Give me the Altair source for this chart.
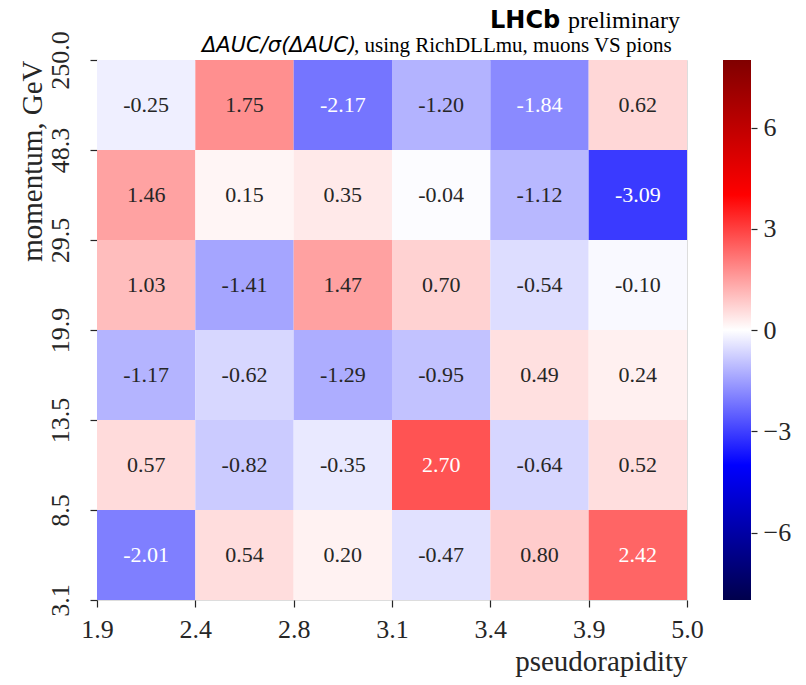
import altair as alt
import pandas as pd

# ---- data ----
eta_edges = ["1.9", "2.4", "2.8", "3.1", "3.4", "3.9", "5.0"]
p_edges = ["3.1", "8.5", "13.5", "19.9", "29.5", "48.3", "250.0"]
# rows from top (highest momentum bin) to bottom
row_250 = [-0.25, 1.75, -2.17, -1.20, -1.84, 0.62]
row_48 = [1.46, 0.15, 0.35, -0.04, -1.12, -3.09]
row_29 = [1.03, -1.41, 1.47, 0.70, -0.54, -0.10]
row_19 = [-1.17, -0.62, -1.29, -0.95, 0.49, 0.24]
row_13 = [0.57, -0.82, -0.35, 2.70, -0.64, 0.52]
row_8 = [-2.01, 0.54, 0.20, -0.47, 0.80, 2.42]
rows_top_down = [row_250, row_48, row_29, row_19, row_13, row_8]
cbar_ticks = [-6, -3, 0, 3, 6]
vmin, vmax = -8, 8

seismic_stops = [0.0, 0.25, 0.5, 0.75, 1.0]
seismic_rgb = [(0.0, 0.0, 0.3), (0.0, 0.0, 1.0), (1.0, 1.0, 1.0), (1.0, 0.0, 0.0), (0.5, 0.0, 0.0)]
seismic_hex = ["#%02x%02x%02x" % tuple(round(c * 255) for c in rgb) for rgb in seismic_rgb]


def cmap(v):
    t = (v - vmin) / (vmax - vmin)
    t = min(max(t, 0.0), 1.0)
    for i in range(4):
        a, b = seismic_stops[i], seismic_stops[i + 1]
        if t <= b:
            f = (t - a) / (b - a)
            return tuple(seismic_rgb[i][k] + f * (seismic_rgb[i + 1][k] - seismic_rgb[i][k]) for k in range(3))
    return seismic_rgb[-1]


def luminance(rgb):
    lin = [c / 12.92 if c <= 0.03928 else ((c + 0.055) / 1.055) ** 2.4 for c in rgb]
    return 0.2126 * lin[0] + 0.7152 * lin[1] + 0.0722 * lin[2]


recs = []
n = len(rows_top_down)
for r, row in enumerate(rows_top_down):
    yb = n - 1 - r
    for c, v in enumerate(row):
        recs.append({
            "x0": c, "x1": c + 1, "xc": c + 0.5,
            "y0": yb, "y1": yb + 1, "yc": yb + 0.5,
            "value": v, "label": f"{v:.2f}",
            "tc": "#262626" if luminance(cmap(v)) > 0.408 else "#ffffff",
        })
df = pd.DataFrame(recs)


def js_array(lst):
    return "[" + ",".join("'" + s + "'" for s in lst) + "]"


SERIF = "Liberation Serif"
TXT = "#262626"

xscale = alt.Scale(domain=[0, 6], nice=False, zero=False)
yscale = alt.Scale(domain=[0, 6], nice=False, zero=False)

xaxis = alt.Axis(
    values=list(range(7)), labelExpr=js_array(eta_edges) + "[datum.value]",
    title="pseudorapidity", titleAnchor="end", titleFont=SERIF, titleFontSize=29,
    titleFontWeight="normal", titleColor=TXT, titlePadding=5,
    labelFont=SERIF, labelFontSize=26, labelColor=TXT, labelPadding=9,
    tickSize=7, tickColor=TXT, tickWidth=1.2, domain=False, grid=False,
    labelFlush=False, labelOverlap=False,
)
yaxis = alt.Axis(
    values=list(range(7)), labelExpr=js_array(p_edges) + "[datum.value]",
    title="momentum, GeV", titleAnchor="end", titleFont=SERIF, titleFontSize=29,
    titleFontWeight="normal", titleColor=TXT, titlePadding=0,
    labelFont=SERIF, labelFontSize=26, labelColor=TXT, labelPadding=17,
    labelAngle=270, labelAlign="center", labelBaseline="bottom",
    tickSize=7, tickColor=TXT, tickWidth=1.2, domain=False, grid=False,
    labelFlush=False, labelOverlap=False,
)

base = alt.Chart(df)
rect = base.mark_rect().encode(
    x=alt.X("x0:Q", scale=xscale, axis=xaxis),
    x2="x1:Q",
    y=alt.Y("y0:Q", scale=yscale, axis=yaxis),
    y2="y1:Q",
    color=alt.Color("value:Q", scale=alt.Scale(domain=[-8, -4, 0, 4, 8], range=seismic_hex,
                                               interpolate="rgb"), legend=None),
)
text = base.mark_text(font=SERIF, fontSize=22, baseline="middle", align="center").encode(
    x=alt.X("xc:Q", scale=xscale, axis=xaxis),
    y=alt.Y("yc:Q", scale=yscale, axis=yaxis),
    text="label:N",
    color=alt.Color("tc:N", scale=None),
)
heat = alt.layer(rect, text)

cbar_df = pd.DataFrame({"lo": [vmin], "hi": [vmax]})
gradient = alt.Gradient(
    gradient="linear",
    stops=[alt.GradientStop(offset=o, color=c) for o, c in zip(seismic_stops, seismic_hex)],
    x1=0, x2=0, y1=1, y2=0,
)
cbar = alt.Chart(cbar_df).mark_rect(fill=gradient).encode(
    x=alt.value(626), x2=alt.value(654),
    y=alt.Y("lo:Q", scale=alt.Scale(domain=[vmin, vmax], nice=False, zero=False),
            axis=alt.Axis(orient="right", offset=64, values=cbar_ticks, title=None,
                          labelExpr="datum.value < 0 ? '\u2212' + abs(datum.value) : '' + datum.value",
                          labelFont=SERIF, labelFontSize=26, labelColor=TXT, labelPadding=6,
                          tickSize=6, tickColor=TXT, tickWidth=1.2, domain=False, grid=False,
                          labelFlush=False, labelOverlap=False)),
    y2="hi:Q",
)

title_df = pd.DataFrame({"t1a": ["LHCb"], "t1b": ["preliminary"],
                         "t2a": ["\u0394AUC/\u03c3(\u0394AUC)"],
                         "t2b": [", using RichDLLmu, muons VS pions"]})
tb = alt.Chart(title_df)
t1a = tb.mark_text(font="DejaVu Sans", fontWeight="bold", fontSize=24, align="left",
                   baseline="alphabetic", color="#000000").encode(
    x=alt.value(393), y=alt.value(-32), text="t1a:N")
t1b = tb.mark_text(font=SERIF, fontSize=24, align="left", baseline="alphabetic",
                   color="#000000").encode(x=alt.value(471), y=alt.value(-32), text="t1b:N")
t2a = tb.mark_text(font="DejaVu Sans", fontStyle="italic", fontSize=21, align="left",
                   baseline="alphabetic", color="#000000").encode(
    x=alt.value(105), y=alt.value(-8), text="t2a:N")
t2b = tb.mark_text(font=SERIF, fontSize=21, align="left", baseline="alphabetic",
                   color="#000000").encode(x=alt.value(257), y=alt.value(-8), text="t2b:N")

chart = alt.layer(heat, cbar, t1a, t1b, t2a, t2b).resolve_scale(
    y="independent", x="independent", color="independent"
).properties(
    width=590, height=540,
    autosize=alt.AutoSizeParams(type="none"),
    padding={"left": 97, "top": 60, "right": 119, "bottom": 85},
).configure_view(stroke=None).configure(background="white")

chart.save("out.html", embed_options={"renderer": "svg", "actions": False})
